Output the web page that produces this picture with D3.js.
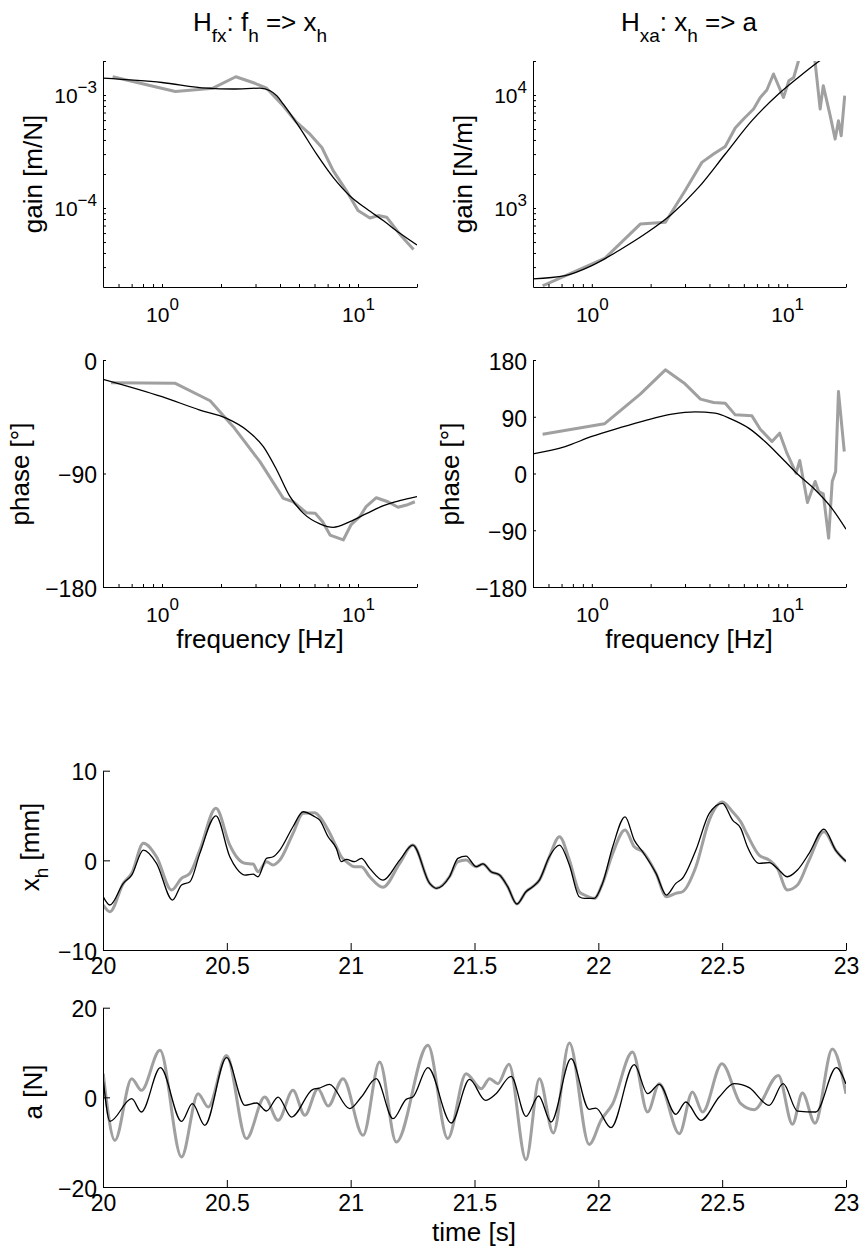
<!DOCTYPE html>
<html><head><meta charset="utf-8">
<script src="https://cdn.jsdelivr.net/npm/d3@7"></script>
<style>
body{margin:0;background:#fff;}
svg text{font-family:"Liberation Sans",Arial,Helvetica,sans-serif;fill:#000;}
</style></head><body>
<script>
// ---------------- DATA ----------------
// H_fx gain (measured, gray)
const fxGainMeasF = [0.56,1.17,1.82,2.38,2.98,3.42,4.08,4.87,5.69,6.54,7.47,8.73,10.0,11.5,12.7,14.0,16.3,19.2];
const fxGainMeas  = [1.45e-3,1.076e-3,1.15e-3,1.45e-3,1.27e-3,1.15e-3,8.3e-4,5.72e-4,4.5e-4,3.43e-4,2.14e-4,1.42e-4,9.5e-5,8.16e-5,8.57e-5,8.3e-5,5.9e-5,4.3e-5];
// H_fx gain (model fit, black)
const fxGainFitF = [0.5,1.0,1.69,2.3,3.16,3.56,3.85,4.16,5.03,6.15,7.47,9.1,11.1,13.5,16.3,20];
const fxGainFit  = [1.41e-3,1.29e-3,1.15e-3,1.13e-3,1.15e-3,1.09e-3,9.86e-4,8.3e-4,5.17e-4,3.0e-4,1.87e-4,1.28e-4,9.8e-5,7.7e-5,6.0e-5,4.7e-5];
// H_xa gain
const xaGainMeasF = [0.56,1.17,1.77,2.38,3.0,3.66,4.2,4.82,5.42,5.98,6.73,7.28,7.87,8.51,9.57,10.2,10.8,11.4,12.2,13.2,13.9,14.75,15.3,16.6,17.6,18.3,18.9,19.7];
const xaGainMeas  = [205,361,721,747,1422,2535,3006,3508,5105,6135,7520,9520,11070,15350,9520,13400,14300,19800,35000,32000,19500,7520,12100,6560,4075,5930,4365,9860];
const xaGainFitF = [0.5,0.73,1.0,1.37,1.87,2.57,3.52,4.82,6.6,9.03,11.4,14.5,17,20];
const xaGainFit  = [236,252,309,419,588,885,1521,3006,5930,10200,14300,19800,24000,28000];
// H_fx phase
const fxPhaseMeasF = [0.55,1.17,1.76,2.31,3.16,4.16,4.67,5.45,6.05,6.6,7.2,8.41,9.2,10.2,11.0,12.4,14.2,16.0,17.7,19.5];
const fxPhaseMeas  = [-18,-18.5,-32.3,-52.9,-80.6,-109.7,-112.4,-121.1,-121.6,-128.2,-138.8,-142.7,-130.8,-124.3,-116.3,-109.2,-112.4,-116.8,-115,-112.4];
const fxPhaseFitF = [0.5,1.0,1.56,2.14,2.7,3.29,3.85,4.5,5.27,6.43,7.47,9.1,11.1,13.5,16.3,20];
const fxPhaseFit  = [-15.3,-29.1,-39.7,-46.3,-55.5,-68.7,-87.2,-108.4,-121.6,-130.1,-132.7,-128.2,-121.6,-115.5,-111.6,-108.4];
// H_xa phase
const xaPhaseMeasF = [0.56,1.16,1.77,2.38,3.0,3.6,4.2,4.82,5.42,6.6,7.28,8.36,9.15,9.97,11.1,11.6,12.7,13.9,14.5,15.3,16.3,17.0,17.7,18.3,19.6];
const xaPhaseMeas  = [62.4,78.8,125.8,164.4,142.2,117.9,112.6,111.5,93,91.4,70.3,50.7,64,32.2,0.5,20.6,-46,-12.7,-28.5,-32.2,-102.5,-12.7,3.2,130,34.9];
const xaPhaseFitF = [0.5,0.73,1.0,1.37,1.87,2.57,3.38,4.27,5.18,6.35,7.7,9.4,11.4,13.9,16.9,20];
const xaPhaseFit  = [31.2,42.8,58.7,71.9,84,94.1,97.8,95.7,86.2,71.9,50.7,24.3,-2.1,-25.9,-55,-88.3];

// x_h time series [mm]
const xhMeasT = [20.001,20.028,20.082,20.116,20.163,20.216,20.277,20.317,20.351,20.391,20.456,20.512,20.539,20.573,20.606,20.626,20.66,20.687,20.714,20.767,20.808,20.855,20.875,20.909,20.942,20.962,20.983,21.016,21.043,21.077,21.13,21.198,21.251,21.319,21.346,21.399,21.433,21.466,21.507,21.534,21.567,21.601,21.634,21.671,21.708,21.735,21.762,21.802,21.843,21.883,21.923,21.944,21.984,22.017,22.058,22.108,22.145,22.179,22.233,22.275,22.313,22.34,22.394,22.448,22.501,22.542,22.575,22.602,22.649,22.69,22.723,22.763,22.804,22.851,22.911,22.958,23.0];
const xhMeas  = [-4.98,-5.73,-2.57,-1.45,1.9,0.4,-3.31,-2.0,-1.45,1.15,5.8,1.7,0.4,-0.33,-0.41,-1.27,-0.15,-0.52,0.03,3.0,5.24,5.3,4.86,3.38,1.52,0.4,-0.15,-0.71,-0.71,-1.83,-3.01,-0.33,1.7,-2.57,-3.12,-1.83,-0.15,0.03,-0.71,-0.4,-1.27,-1.64,-2.94,-4.87,-3.5,-2.94,-2.2,0.4,2.63,0.03,-3.5,-3.87,-4.24,-2.57,0.78,3.38,1.52,0.96,-1.45,-4.06,-3.68,-3.5,-0.71,4.49,6.5,5.42,4.3,2.82,0.59,0.03,-0.9,-3.31,-2.75,0.03,3.19,1.15,-0.15];
const xhModelT = [20.001,20.028,20.082,20.116,20.163,20.216,20.281,20.317,20.351,20.391,20.456,20.512,20.539,20.573,20.606,20.626,20.66,20.687,20.714,20.767,20.808,20.855,20.875,20.909,20.942,20.962,20.983,21.016,21.043,21.077,21.13,21.198,21.251,21.319,21.346,21.399,21.433,21.466,21.507,21.534,21.567,21.601,21.634,21.671,21.708,21.735,21.762,21.802,21.843,21.883,21.923,21.944,21.984,22.017,22.058,22.108,22.145,22.179,22.233,22.275,22.313,22.34,22.394,22.448,22.501,22.542,22.575,22.602,22.649,22.69,22.723,22.763,22.804,22.851,22.911,22.958,23.0];
const xhModel  = [-4.06,-4.98,-2.57,-1.64,1.15,-0.33,-4.43,-2.75,-2.38,0.78,4.97,0.4,-0.9,-1.64,-1.53,-1.83,0.22,0.4,1.15,3.75,5.42,4.86,4.49,2.63,1.34,-0.15,0.1,-0.15,0.22,-0.9,-2.2,0.03,1.7,-2.57,-3.12,-1.83,0.22,0.48,-0.71,-0.4,-1.27,-1.64,-2.94,-4.87,-3.5,-2.94,-2.2,0.4,1.7,-0.52,-4.06,-4.24,-4.24,-2.57,1.52,4.86,2.26,0.96,-1.45,-3.87,-2.57,-2.0,1.15,5.24,6.35,4.49,3.57,1.52,-0.33,-0.26,-0.9,-1.83,-1.08,0.78,3.49,1.15,-0.1];

// a time series [N]
const aMeasT = [20.001,20.048,20.116,20.155,20.23,20.317,20.384,20.425,20.499,20.579,20.653,20.707,20.767,20.815,20.868,20.909,20.969,21.05,21.117,21.184,21.312,21.392,21.466,21.527,21.561,21.594,21.639,21.708,21.762,21.818,21.883,21.963,22.011,22.058,22.138,22.199,22.246,22.327,22.38,22.421,22.499,22.575,22.629,22.727,22.784,22.824,22.875,22.945,23.0];
const aMeas  = [5.28,-9.6,4.16,1.56,10.5,-13.3,0.82,-2.16,9.36,-9.2,0.07,-5.13,1.56,-4.0,1.93,-1.93,4.16,-8.47,7.87,-9.97,11.6,-9.2,5.28,1.93,4.16,3.05,7.36,-13.9,4.16,-7.95,12.1,-10.5,-5.1,-1.41,10.1,-3.27,3.05,-8.1,1.19,-3.27,7.5,-1.41,-2.75,4.9,-6.0,0.96,-5.76,10.8,0.8];
const aModelT = [20.001,20.028,20.116,20.155,20.232,20.317,20.361,20.411,20.499,20.573,20.62,20.66,20.707,20.761,20.848,20.87,20.915,20.996,21.043,21.103,21.171,21.224,21.251,21.312,21.406,21.48,21.544,21.587,21.648,21.708,21.759,21.809,21.89,21.963,21.99,22.051,22.145,22.199,22.246,22.313,22.353,22.414,22.488,22.548,22.609,22.69,22.746,22.804,22.878,22.961,23.0];
const aModel  = [4.0,-5.35,-0.3,-3.27,6.62,-5.35,-1.41,-6.24,8.85,-1.78,-1.26,-3.05,0.07,-4.39,1.8,2.0,2.9,-2.53,0.07,4.16,-4.76,-0.45,0.07,6.62,-5.72,4.0,-0.67,0.82,4.68,-4.24,0.3,-5.5,8.63,-2.68,-2.4,-6.76,7.29,0.82,2.9,-3.79,-1.04,-5.13,0.07,3.05,2.16,-1.78,3.05,-3.05,-3.27,6.62,3.0];

// tick values
const freqMajor = [1, 10];
const freqMinor = [0.6,0.7,0.8,0.9,2,3,4,5,6,7,8,9,20];
const fxGainMajor = [1e-4, 1e-3];
const fxGainMinor = [3e-5,4e-5,5e-5,6e-5,7e-5,8e-5,9e-5,2e-4,3e-4,4e-4,5e-4,6e-4,7e-4,8e-4,9e-4,2e-3];
const xaGainMajor = [1e3, 1e4];
const xaGainMinor = [300,400,500,600,700,800,900,2000,3000,4000,5000,6000,7000,8000,9000,20000];
const fxPhaseTicks = [-180, -90, 0];
const xaPhaseTicks = [-180, -90, 0, 90, 180];
const timeTicks = [20, 20.5, 21, 21.5, 22, 22.5, 23];
const xhTicks = [-10, 0, 10];
const aTicks = [-20, 0, 20];

// ---------------- DRAW ----------------
const GRAY = '#a0a0a0';
const svg = d3.select('body').append('svg').attr('width', 865).attr('height', 1250);
let clipN = 0;

function styleAxis(g) {
  g.attr('font-size', null).attr('font-family', null).attr('color', '#000');
  g.selectAll('path.domain').attr('stroke-width', 1);
  g.selectAll('.tick line').attr('stroke-width', 1);
}
function clipRect(x0, x1, yTop, yBot) {
  const id = 'clip' + (clipN++);
  svg.append('clipPath').attr('id', id).append('rect')
    .attr('x', x0).attr('y', yTop).attr('width', x1 - x0).attr('height', yBot - yTop);
  return 'url(#' + id + ')';
}
function drawLine(xs, ys, xv, yv, color, width, curve, clip) {
  const gen = d3.line().x(i => xs(xv[i])).y(i => ys(yv[i])).curve(curve);
  svg.append('path').attr('d', gen(d3.range(xv.length)))
    .attr('fill', 'none').attr('stroke', color).attr('stroke-width', width)
    .attr('stroke-linejoin', 'round').attr('clip-path', clip);
}
function supLabel(textSel, base, exp, fsBase, fsExp, dyExp) {
  textSel.text(null);
  textSel.append('tspan').attr('font-size', fsBase).text(base);
  textSel.append('tspan').attr('font-size', fsExp).attr('dy', dyExp).text(exp);
}
function expStr(v) { return String(Math.round(Math.log10(v))).replace('-', '\u2212'); }

function logXAxis(xs, yAxis) {
  const ax = d3.axisBottom(xs).tickValues(freqMajor.concat(freqMinor))
    .tickSizeInner(-3).tickSizeOuter(0).tickFormat(() => '');
  const g = svg.append('g').attr('transform', `translate(0,${yAxis})`).call(ax);
  styleAxis(g);
  g.selectAll('.tick').filter(d => freqMajor.includes(d)).select('text').each(function (d) {
    const t = d3.select(this).attr('y', 35).attr('dy', null).attr('text-anchor', 'middle');
    supLabel(t, '10', expStr(d), 21, 17, -12);
  });
}
function logYAxis(ys, xAxis, major, minor) {
  const ax = d3.axisLeft(ys).tickValues(major.concat(minor))
    .tickSizeInner(-3).tickSizeOuter(0).tickFormat(() => '');
  const g = svg.append('g').attr('transform', `translate(${xAxis},0)`).call(ax);
  styleAxis(g);
  g.selectAll('.tick').filter(d => major.includes(d)).select('text').each(function (d) {
    const t = d3.select(this).attr('x', -6).attr('y', 7.5).attr('dy', null).attr('text-anchor', 'end');
    supLabel(t, '10', expStr(d), 21, 17, -10);
  });
}
function linYAxis(ys, xAxis, ticks, tickLen) {
  const ax = d3.axisLeft(ys).tickValues(ticks).tickSizeInner(-tickLen).tickSizeOuter(0)
    .tickFormat(d3.format('d'));
  const g = svg.append('g').attr('transform', `translate(${xAxis},0)`).call(ax);
  styleAxis(g);
  g.selectAll('.tick text').attr('x', -6).attr('y', 1).attr('dy', '0.36em')
    .attr('font-size', 23).attr('text-anchor', 'end');
}
function linXAxis(xs, yAxis, ticks, tickLen) {
  const ax = d3.axisBottom(xs).tickValues(ticks).tickSizeInner(-tickLen).tickSizeOuter(0)
    .tickFormat(d => String(d));
  const g = svg.append('g').attr('transform', `translate(0,${yAxis})`).call(ax);
  styleAxis(g);
  g.selectAll('.tick text').attr('y', 24).attr('dy', null).attr('font-size', 23).attr('text-anchor', 'middle');
}
function yLabel(x, yc, parts) {
  const t = svg.append('text').attr('transform', `translate(${x},${yc}) rotate(-90)`)
    .attr('text-anchor', 'middle').attr('font-size', 26);
  parts.forEach(p => {
    const s = t.append('tspan').text(p.t);
    if (p.sub) s.attr('font-size', 19).attr('dy', 9);
    if (p.back) s.attr('dy', -9);
  });
}
function xLabel(xc, y, str) {
  svg.append('text').attr('x', xc).attr('y', y).attr('text-anchor', 'middle')
    .attr('font-size', 26).text(str);
}
function title(xc, y, parts) {
  const t = svg.append('text').attr('x', xc).attr('y', y).attr('text-anchor', 'middle')
    .attr('font-size', 26);
  parts.forEach(p => {
    const s = t.append('tspan').text(p.t);
    if (p.sub) s.attr('font-size', 19).attr('dy', 11);
    if (p.back) s.attr('dy', -11);
  });
}

// frequency-domain panels
const panels = [
  { x0: 103, x1: 417, gainDom: [2e-5, 2e-3], gMaj: fxGainMajor, gMin: fxGainMinor,
    gMF: fxGainMeasF, gM: fxGainMeas, gFF: fxGainFitF, gF: fxGainFit,
    phDom: [-180, 0], phTicks: fxPhaseTicks,
    pMF: fxPhaseMeasF, pM: fxPhaseMeas, pFF: fxPhaseFitF, pF: fxPhaseFit },
  { x0: 533, x1: 846, gainDom: [200, 2e4], gMaj: xaGainMajor, gMin: xaGainMinor,
    gMF: xaGainMeasF, gM: xaGainMeas, gFF: xaGainFitF, gF: xaGainFit,
    phDom: [-180, 180], phTicks: xaPhaseTicks,
    pMF: xaPhaseMeasF, pM: xaPhaseMeas, pFF: xaPhaseFitF, pF: xaPhaseFit }
];
const GAIN_TOP = 61, GAIN_BOT = 287, PH_TOP = 360, PH_BOT = 587;

panels.forEach(p => {
  const xs = d3.scaleLog().domain([0.5, 20]).range([p.x0, p.x1]);
  // gain
  const gy = d3.scaleLog().domain(p.gainDom).range([GAIN_BOT, GAIN_TOP]);
  const gc = clipRect(p.x0, p.x1, GAIN_TOP, GAIN_BOT);
  drawLine(xs, gy, p.gMF, p.gM, GRAY, 3, d3.curveLinear, gc);
  drawLine(xs, gy, p.gFF, p.gF, '#000', 1.3, d3.curveMonotoneX, gc);
  logXAxis(xs, GAIN_BOT);
  logYAxis(gy, p.x0, p.gMaj, p.gMin);
  // phase
  const py = d3.scaleLinear().domain(p.phDom).range([PH_BOT, PH_TOP]);
  const pc = clipRect(p.x0, p.x1, PH_TOP, PH_BOT);
  drawLine(xs, py, p.pMF, p.pM, GRAY, 3, d3.curveLinear, pc);
  drawLine(xs, py, p.pFF, p.pF, '#000', 1.3, d3.curveMonotoneX, pc);
  logXAxis(xs, PH_BOT);
  linYAxis(py, p.x0, p.phTicks, 3);
});

title(260, 31, [{ t: 'H' }, { t: 'fx', sub: true }, { t: ': f', back: true }, { t: 'h', sub: true }, { t: ' => x', back: true }, { t: 'h', sub: true }]);
title(689, 31, [{ t: 'H' }, { t: 'xa', sub: true }, { t: ': x', back: true }, { t: 'h', sub: true }, { t: ' => a', back: true }]);
yLabel(42, 174, [{ t: 'gain [m/N]' }]);
yLabel(472, 174, [{ t: 'gain [N/m]' }]);
yLabel(29, 474, [{ t: 'phase [\u00b0]' }]);
yLabel(459, 474, [{ t: 'phase [\u00b0]' }]);
xLabel(260, 648, 'frequency [Hz]');
xLabel(689, 648, 'frequency [Hz]');

// time-domain panels
const ts = d3.scaleLinear().domain([20, 23]).range([103, 846]);
const xhY = d3.scaleLinear().domain([-10, 10]).range([950, 770.7]);
const aY = d3.scaleLinear().domain([-20, 20]).range([1187, 1007.7]);
const c1 = clipRect(103, 846, 770, 950);
drawLine(ts, xhY, xhMeasT, xhMeas, GRAY, 3, d3.curveMonotoneX, c1);
drawLine(ts, xhY, xhModelT, xhModel, '#000', 1.3, d3.curveMonotoneX, c1);
linXAxis(ts, 950, timeTicks, 7);
linYAxis(xhY, 103, xhTicks, 7);
const c2 = clipRect(103, 846, 1007, 1187);
drawLine(ts, aY, aMeasT, aMeas, GRAY, 3, d3.curveMonotoneX, c2);
drawLine(ts, aY, aModelT, aModel, '#000', 1.3, d3.curveMonotoneX, c2);
linXAxis(ts, 1187, timeTicks, 7);
linYAxis(aY, 103, aTicks, 7);
yLabel(39, 847, [{ t: 'x' }, { t: 'h', sub: true }, { t: ' [mm]', back: true }]);
yLabel(42, 1092, [{ t: 'a [N]' }]);
xLabel(474, 1241, 'time [s]');
</script>
</body></html>
